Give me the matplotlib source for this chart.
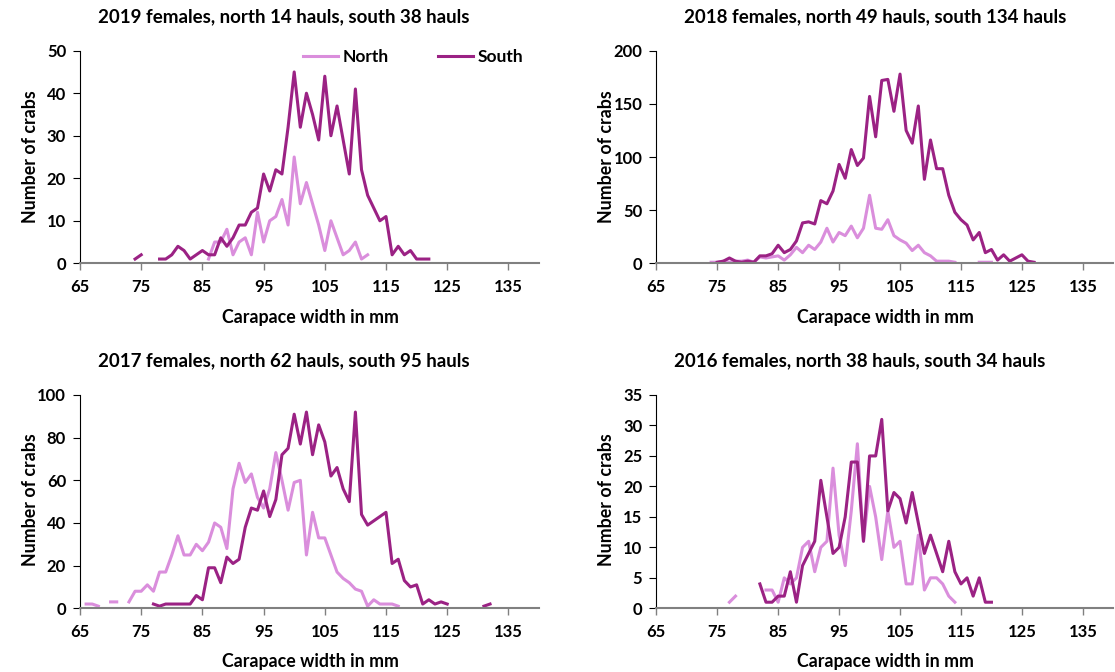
import numpy as np
import matplotlib.pyplot as plt
from matplotlib.lines import Line2D

plt.rcParams['font.family'] = ['Lato', 'DejaVu Sans']
plt.rcParams['font.weight'] = 'bold'

NORTH_COLOR = '#DA8EDC'
SOUTH_COLOR = '#9B2284'

# --- data: crabs per 1 mm carapace width class (None = no value) ---
north_2019_start = 86
north_2019 = [1, 5, 5, 8, 2, 5, 6, 2, 12, 5, 10, 11, 15, 9, 25, 14, 19, 14, 9, 3,
              10, 6, 2, 3, 5, 1, 2]
south_2019_start = 74
south_2019 = [1, 2, None, None, 1, 1, 2, 4, 3, 1, 2, 3, 2, 2, 6, 4, 6, 9, 9, 12,
              13, 21, 17, 22, 21, 32, 45, 32, 40, 35, 29, 44, 30, 37, 29, 21, 41, 22, 16, 13,
              10, 11, 2, 4, 2, 3, 1, 1, 1]

north_2018_start = 74
north_2018 = [1, 1, 2, 1, 2, 2, 3, 1, 6, 5, 6, 7, 3, 8, 15, 10, 17, 13, 20, 33,
              20, 29, 26, 35, 24, 33, 64, 33, 32, 41, 26, 22, 19, 12, 17, 10, 7, 2, 2, 2,
              1, None, None, None, 1, 1, 1]
south_2018_start = 75
south_2018 = [1, 2, 5, 2, 1, 2, 1, 7, 7, 9, 17, 10, 13, 21, 38, 39, 37, 59, 56, 68,
              93, 80, 107, 92, 99, 157, 119, 172, 173, 143, 178, 125, 113, 148, 79, 116, 89, 89, 64, 48,
              41, 36, 22, 29, 10, 13, 3, 8, 2, 5, 8, 2, 1]

north_2017_start = 66
north_2017 = [2, 2, 1, None, 3, 3, None, 3, 8, 8, 11, 8, 17, 17, 25, 34, 25, 25, 30, 27,
              31, 40, 38, 28, 56, 68, 59, 63, 52, 47, 56, 73, 60, 46, 59, 60, 25, 45, 33, 33,
              25, 17, 14, 12, 9, 8, 1, 4, 2, 2, 2, 1]
south_2017_start = 77
south_2017 = [2, 1, 2, 2, 2, 2, 2, 6, 4, 19, 19, 12, 24, 21, 23, 38, 47, 46, 55, 43,
              51, 72, 75, 91, 77, 92, 72, 86, 78, 62, 66, 56, 50, 92, 44, 39, 41, 43, 45, 21,
              23, 13, 10, 11, 2, 4, 2, 3, 2, None, None, None, None, None, 1, 2]

north_2016_start = 77
north_2016 = [1, 2, None, None, None, None, 3, 3, 1, 5, 4, 5, 10, 11, 6, 10, 11, 23, 12, 7,
              16, 27, 11, 20, 15, 8, 16, 10, 11, 4, 4, 12, 3, 5, 5, 4, 2, 1]
south_2016_start = 82
south_2016 = [4, 1, 1, 2, 2, 6, 1, 7, 9, 11, 21, 15, 9, 10, 15, 24, 24, 11, 25, 25,
              31, 16, 19, 18, 14, 19, 14, 9, 12, 9, 6, 11, 6, 4, 5, 2, 5, 1, 1]

panels = [
    ("2019 females, north 14 hauls, south 38 hauls",
     north_2019_start, north_2019, south_2019_start, south_2019, 50, 10),
    ("2018 females, north 49 hauls, south 134 hauls",
     north_2018_start, north_2018, south_2018_start, south_2018, 200, 50),
    ("2017 females, north 62 hauls, south 95 hauls",
     north_2017_start, north_2017, south_2017_start, south_2017, 100, 20),
    ("2016 females, north 38 hauls, south 34 hauls",
     north_2016_start, north_2016, south_2016_start, south_2016, 35, 5),
]

# axes rectangles in pixels: left, bottom(y from top), width, height
W, H = 1115, 672
rects = [(80, 263.3, 459, 212.6), (656.3, 263.3, 457, 212.6),
         (80, 608.3, 459, 213.3), (656.3, 608.3, 457, 213.3)]
title_pos = [(284, 17), (875, 17), (284, 361), (860, 361)]
xlabel_pos = [(310, 318), (885, 318), (310, 662), (885, 662)]
ylabel_pos = [(30, 157), (607, 157), (30, 500), (607, 500)]


def series(start, vals):
    x = np.arange(start, start + len(vals))
    y = np.array([np.nan if v is None else v for v in vals], dtype=float)
    return x, y


fig = plt.figure(figsize=(W / 100, H / 100), dpi=100)

for i, (title, ns, nv, ss, sv, ymax, ystep) in enumerate(panels):
    l, b, w, h = rects[i]
    ax = fig.add_axes([l / W, 1 - b / H, w / W, h / H])

    xn, yn = series(ns, nv)
    xs, ys = series(ss, sv)
    ax.plot(xn, yn, color=NORTH_COLOR, lw=2.2, solid_joinstyle='round')
    ax.plot(xs, ys, color=SOUTH_COLOR, lw=2.2, solid_joinstyle='round')

    ax.set_xlim(65, 140)
    ax.set_ylim(0, ymax)
    ax.set_xticks(np.arange(65, 136, 10))
    ax.set_yticks(np.arange(0, ymax + 1, ystep))
    for sp in ['top', 'right']:
        ax.spines[sp].set_visible(False)
    ax.spines['left'].set_color('black')
    ax.spines['left'].set_linewidth(0.8)
    ax.spines['bottom'].set_color('#808080')
    ax.spines['bottom'].set_linewidth(1.5)
    ax.tick_params(axis='x', direction='out', length=5, width=1, color='#808080',
                   labelsize=12, pad=6)
    ax.tick_params(axis='y', direction='out', length=5, width=0.8, color='black',
                   labelsize=12, pad=5)
    for lab in ax.get_xticklabels() + ax.get_yticklabels():
        lab.set_fontweight('bold')

    fig.text(title_pos[i][0] / W, 1 - title_pos[i][1] / H, title,
             ha='center', va='center', fontsize=13.5, fontweight='bold')
    fig.text(xlabel_pos[i][0] / W, 1 - xlabel_pos[i][1] / H, "Carapace width in mm",
             ha='center', va='center', fontsize=12.8, fontweight='bold')
    fig.text(ylabel_pos[i][0] / W, 1 - ylabel_pos[i][1] / H, "Number of crabs",
             ha='center', va='center', rotation=90, fontsize=12.8, fontweight='bold')

    if i == 0:
        handles = [Line2D([], [], color=NORTH_COLOR, lw=2.2),
                   Line2D([], [], color=SOUTH_COLOR, lw=2.2)]
        ax.legend(handles, ["North", "South"], ncol=2, frameon=False,
                  loc='upper right', bbox_to_anchor=(1.0, 1.08),
                  prop={'size': 12.5, 'weight': 'bold'},
                  handlelength=2.0, handletextpad=0.3, columnspacing=2.8)

fig.savefig("out.png", dpi=100)
